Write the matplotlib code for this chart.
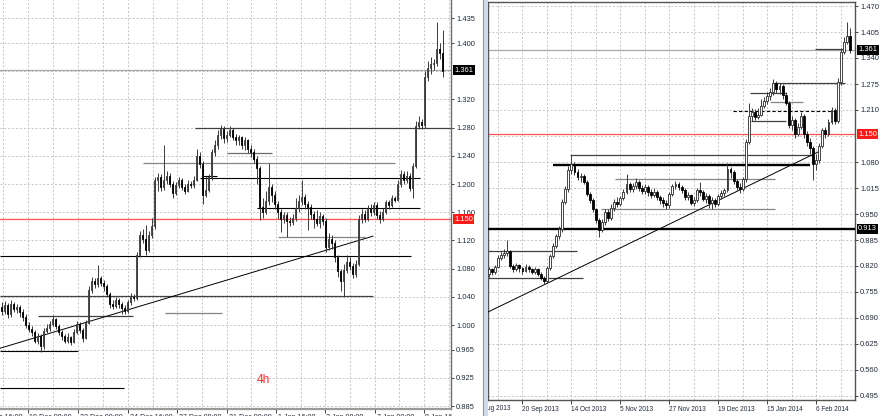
import matplotlib
matplotlib.use('Agg')
import matplotlib.pyplot as plt
from matplotlib.transforms import Bbox, TransformedBbox
from matplotlib.lines import Line2D
from matplotlib.patches import Rectangle
import numpy as np

# ---------------- DATA ----------------
# Left panel (4h) candles
left_first_open = 1.025
left_close = [
    1.020, 1.028, 1.015, 1.030, 1.022, 1.026, 1.018, 1.012, 1.000, 0.995,
    0.990, 0.978, 0.985, 0.970, 0.992, 0.996, 1.002, 1.008, 0.998, 0.990,
    0.984, 0.978, 0.983, 0.976, 0.990, 1.002, 0.993, 0.982, 1.003, 1.050,
    1.062, 1.058, 1.066, 1.060, 1.055, 1.044, 1.030, 1.027, 1.035, 1.030,
    1.024, 1.020, 1.032, 1.040, 1.038, 1.100, 1.128, 1.122, 1.106, 1.128,
    1.140, 1.205, 1.210, 1.196, 1.206, 1.212, 1.200, 1.187, 1.198, 1.205,
    1.196, 1.190, 1.200, 1.198, 1.206, 1.240, 1.228, 1.185, 1.192, 1.210,
    1.245, 1.256, 1.270, 1.278, 1.265, 1.270, 1.276, 1.267, 1.262, 1.266,
    1.255, 1.262, 1.250, 1.246, 1.236, 1.222, 1.168, 1.160, 1.176, 1.196,
    1.185, 1.172, 1.160, 1.150, 1.156, 1.148, 1.146, 1.152, 1.166, 1.176,
    1.182, 1.172, 1.168, 1.158, 1.150, 1.144, 1.155, 1.148, 1.110, 1.122,
    1.116, 1.096, 1.076, 1.062, 1.078, 1.090, 1.084, 1.072, 1.086, 1.150,
    1.158, 1.150, 1.165, 1.160, 1.170, 1.156, 1.150, 1.160, 1.174, 1.170,
    1.180, 1.178, 1.200, 1.214, 1.205, 1.212, 1.195, 1.225, 1.282, 1.288,
    1.283, 1.352, 1.364, 1.370, 1.372, 1.392, 1.386, 1.360]
left_high = [
    1.032, 1.034, 1.031, 1.036, 1.033, 1.030, 1.029, 1.022, 1.015, 1.004,
    0.999, 0.993, 0.989, 0.987, 0.996, 1.002, 1.006, 1.014, 1.010, 1.001,
    0.993, 0.987, 0.988, 0.985, 0.994, 1.006, 1.004, 0.996, 1.007, 1.055,
    1.068, 1.066, 1.085, 1.070, 1.064, 1.058, 1.047, 1.036, 1.040, 1.038,
    1.033, 1.028, 1.036, 1.046, 1.044, 1.104, 1.133, 1.136, 1.142, 1.133,
    1.152, 1.210, 1.216, 1.214, 1.255, 1.218, 1.215, 1.204, 1.203, 1.210,
    1.208, 1.200, 1.205, 1.204, 1.212, 1.250, 1.245, 1.232, 1.212, 1.214,
    1.250, 1.262, 1.276, 1.284, 1.282, 1.275, 1.282, 1.279, 1.271, 1.270,
    1.268, 1.266, 1.264, 1.256, 1.250, 1.240, 1.225, 1.180, 1.190, 1.230,
    1.200, 1.190, 1.176, 1.165, 1.160, 1.160, 1.153, 1.157, 1.180, 1.185,
    1.206, 1.186, 1.176, 1.172, 1.162, 1.163, 1.160, 1.158, 1.152, 1.130,
    1.127, 1.120, 1.100, 1.080, 1.086, 1.100, 1.096, 1.088, 1.092, 1.156,
    1.165, 1.163, 1.170, 1.172, 1.175, 1.174, 1.162, 1.166, 1.178, 1.177,
    1.184, 1.183, 1.205, 1.220, 1.218, 1.218, 1.216, 1.230, 1.290, 1.296,
    1.292, 1.360, 1.375, 1.380, 1.378, 1.430, 1.400, 1.418]
left_low = [
    1.014, 1.016, 1.010, 1.012, 1.018, 1.017, 1.012, 1.006, 0.996, 0.990,
    0.984, 0.974, 0.973, 0.962, 0.966, 0.988, 0.992, 0.999, 0.994, 0.986,
    0.979, 0.974, 0.975, 0.972, 0.974, 0.987, 0.988, 0.976, 0.980, 1.001,
    1.046, 1.052, 1.054, 1.055, 1.048, 1.040, 1.024, 1.022, 1.024, 1.024,
    1.015, 1.015, 1.017, 1.028, 1.034, 1.035, 1.096, 1.117, 1.100, 1.103,
    1.124, 1.136, 1.190, 1.190, 1.192, 1.200, 1.196, 1.180, 1.184, 1.194,
    1.192, 1.186, 1.188, 1.194, 1.195, 1.204, 1.222, 1.172, 1.182, 1.188,
    1.206, 1.240, 1.250, 1.264, 1.258, 1.260, 1.266, 1.262, 1.256, 1.255,
    1.250, 1.248, 1.244, 1.238, 1.230, 1.200, 1.149, 1.152, 1.157, 1.170,
    1.175, 1.165, 1.150, 1.132, 1.144, 1.125, 1.141, 1.142, 1.148, 1.160,
    1.170, 1.165, 1.135, 1.150, 1.138, 1.140, 1.138, 1.142, 1.104, 1.106,
    1.108, 1.090, 1.068, 1.048, 1.040, 1.074, 1.078, 1.066, 1.068, 1.083,
    1.144, 1.146, 1.147, 1.155, 1.156, 1.150, 1.144, 1.147, 1.157, 1.165,
    1.167, 1.174, 1.176, 1.196, 1.200, 1.202, 1.190, 1.180, 1.222, 1.278,
    1.278, 1.280, 1.346, 1.356, 1.362, 1.368, 1.378, 1.352]

# Right panel (daily) candles
right_first_open = 0.800
right_close = [
    0.812, 0.805, 0.818, 0.840, 0.848, 0.852, 0.858, 0.820, 0.812, 0.822,
    0.815, 0.808, 0.818, 0.812, 0.805, 0.812, 0.800, 0.790, 0.782, 0.815,
    0.845, 0.870, 0.895, 0.912, 0.980, 1.012, 1.060, 1.075, 1.055, 1.042,
    1.045, 1.030, 1.000, 0.985, 0.962, 0.935, 0.910, 0.930, 0.955, 0.940,
    0.965, 0.980, 0.975, 0.990, 1.005, 1.025, 1.012, 1.020, 1.030, 1.015,
    1.008, 1.018, 1.005, 0.998, 1.006, 0.992, 0.985, 0.978, 0.972, 1.000,
    1.020, 1.025, 1.018, 1.010, 0.992, 0.998, 0.978, 0.985, 1.010, 1.005,
    0.988, 0.995, 0.978, 0.985, 0.975, 0.995, 1.002, 1.010, 1.062, 1.055,
    1.032, 1.018, 1.012, 1.038, 1.130, 1.195, 1.205, 1.192, 1.198, 1.220,
    1.232, 1.245, 1.255, 1.278, 1.262, 1.270, 1.248, 1.228, 1.172, 1.185,
    1.150, 1.168, 1.195, 1.150, 1.130, 1.115, 1.075, 1.085, 1.120, 1.160,
    1.150, 1.180, 1.210, 1.182, 1.280, 1.355, 1.380, 1.396, 1.361]
right_high = [
    0.818, 0.815, 0.822, 0.848, 0.855, 0.862, 0.885, 0.860, 0.826, 0.828,
    0.825, 0.818, 0.824, 0.822, 0.816, 0.818, 0.815, 0.804, 0.794, 0.820,
    0.850, 0.878, 0.900, 0.920, 0.988, 1.020, 1.070, 1.097, 1.080, 1.062,
    1.052, 1.050, 1.036, 1.006, 0.990, 0.966, 0.940, 0.938, 0.962, 0.962,
    0.975, 0.988, 0.992, 0.996, 1.012, 1.050, 1.030, 1.028, 1.040, 1.034,
    1.022, 1.024, 1.022, 1.012, 1.014, 1.010, 0.998, 0.992, 0.984, 1.004,
    1.026, 1.032, 1.030, 1.022, 1.014, 1.005, 1.000, 0.992, 1.015, 1.030,
    1.010, 1.002, 1.000, 0.992, 0.990, 1.000, 1.010, 1.015, 1.078, 1.068,
    1.060, 1.038, 1.028, 1.042, 1.138, 1.227, 1.215, 1.212, 1.215, 1.238,
    1.242, 1.255, 1.265, 1.287, 1.282, 1.278, 1.275, 1.255, 1.232, 1.195,
    1.190, 1.178, 1.205, 1.200, 1.158, 1.140, 1.120, 1.100, 1.128, 1.166,
    1.168, 1.188, 1.218, 1.215, 1.290, 1.365, 1.392, 1.430, 1.415]
right_low = [
    0.792, 0.798, 0.800, 0.815, 0.835, 0.840, 0.845, 0.815, 0.806, 0.808,
    0.806, 0.800, 0.804, 0.806, 0.800, 0.801, 0.796, 0.784, 0.774, 0.778,
    0.810, 0.840, 0.865, 0.888, 0.905, 0.975, 1.005, 1.050, 1.048, 1.036,
    1.030, 1.024, 0.994, 0.978, 0.955, 0.928, 0.893, 0.904, 0.922, 0.932,
    0.935, 0.958, 0.968, 0.970, 0.985, 1.000, 1.005, 1.005, 1.012, 1.008,
    1.000, 1.000, 0.996, 0.990, 0.992, 0.986, 0.976, 0.968, 0.962, 0.966,
    0.995, 1.012, 1.010, 1.002, 0.986, 0.985, 0.972, 0.970, 0.980, 0.996,
    0.982, 0.978, 0.966, 0.963, 0.968, 0.970, 0.988, 0.995, 1.005, 1.040,
    1.025, 1.010, 1.002, 1.008, 1.030, 1.125, 1.182, 1.186, 1.188, 1.195,
    1.215, 1.225, 1.235, 1.248, 1.252, 1.250, 1.238, 1.222, 1.165, 1.160,
    1.140, 1.145, 1.162, 1.140, 1.120, 1.100, 1.035, 1.060, 1.078, 1.115,
    1.140, 1.145, 1.175, 1.175, 1.178, 1.272, 1.350, 1.374, 1.352]

# price levels
current_price = 1.361
red_level = 1.150
right_bold_level = 0.913

# horizontal segments drawn on the charts: level, start bar, end bar
left_seg_level = [1.2794, 1.244, 1.2298, 1.2085, 1.2115, 1.166, 1.1248, 1.098, 1.041, 1.0128, 1.017, 0.963, 0.9106]
left_seg_start = [64.5, 75.2, 47.2, 66.2, 67.2, 85.2, 92.2, -0.5, -0.5, 12.2, 54.5, -0.5, -0.5]
left_seg_end = [150.0, 90.2, 131.2, 139.5, 71.8, 139.5, 121.2, 136.5, 123.8, 43.8, 73.5, 25.5, 40.8]
left_seg_kind = ['dark', 'mid', 'gray', 'black', 'black', 'black', 'gray', 'black', 'dark', 'dark', 'gray', 'black', 'black']

right_seg_level = [1.3625, 1.2775, 1.2525, 1.230, 1.2075, 1.1825, 1.0975, 1.0725, 1.0375, 0.9625, 0.8575, 0.790]
right_seg_start = [106.6, 92.9, 85.4, 91.9, 79.8, 85.7, 26.5, 21.0, 41.2, 36.7, -0.3, -0.3]
right_seg_end = [115.8, 116.4, 97.2, 102.7, 113.1, 97.2, 106.0, 105.0, 93.5, 93.5, 28.8, 30.8]
right_seg_kind = ['dark', 'dark', 'dark', 'gray', 'dash', 'dark', 'dark', 'thick', 'gray', 'gray', 'dark', 'dark']

# trend lines (bar, price) endpoints
left_trend_x = [-0.5, 123.8]
left_trend_y = [0.967, 1.126]
right_trend_x = [-0.26, 107.6]
right_trend_y = [0.705, 1.105]

# axis ticks
left_yticks = [1.435, 1.400, 1.320, 1.280, 1.240, 1.200, 1.160, 1.120, 1.080, 1.040, 1.000, 0.965, 0.925, 0.885]
right_yticks = [1.470, 1.405, 1.340, 1.275, 1.210, 1.080, 1.015, 0.950, 0.885, 0.820, 0.755, 0.690, 0.625, 0.560, 0.495]
right_date_pos = [-5, 11, 27, 43, 59, 75, 91, 107]
right_date_labels = ['28 Aug 2013', '20 Sep 2013', '14 Oct 2013', '5 Nov 2013', '27 Nov 2013',
                     '19 Dec 2013', '15 Jan 2014', '6 Feb 2014']
left_date_pos = [-7.5, 8.83, 25.5, 42.17, 58.5, 75.17, 91.5, 107.83, 124.5, 140.83]
left_date_labels = ['17 Dec 16:00', '19 Dec 08:00', '23 Dec 00:00', '24 Dec 16:00', '27 Dec 08:00',
                    '31 Dec 00:00', '1 Jan 16:00', '3 Jan 08:00', '7 Jan 00:00', '8 Jan 16:00']
left_vgrid = [0.5, 8.83, 17.17, 25.5, 33.83, 42.17, 50.5, 58.5, 66.83, 75.17, 83.17, 91.5,
              99.83, 107.83, 116.17, 124.5, 132.5, 140.83, 149.17]
right_vgrid = [3, 11, 19, 27, 35, 43, 51, 59, 67, 75, 83, 91, 99, 107, 115]

# ---------------- FIGURE ----------------
plt.rcParams['font.family'] = ['Liberation Sans', 'DejaVu Sans']
W, H = 880, 416
fig = plt.figure(figsize=(W / 100, H / 100), dpi=100)
fig.patch.set_facecolor('white')

YFS = 5.4     # price label font size
XFS = 4.7     # date label font size
TXT = '#1e2a3a'


def fx(px):
    return px / W


def fy(py):
    return 1 - py / H


axL = fig.add_axes([0, fy(409), fx(451), 409 / H])
axR = fig.add_axes([fx(488), fy(400), fx(855 - 488), (400 - 2) / H])

GRID = '#c4c4c4'
KIND = {'black': dict(color='#000000', lw=0.8, ls='-'),
        'dark': dict(color='#404040', lw=0.9, ls='-'),
        'mid': dict(color='#6a6a6a', lw=0.9, ls='-'),
        'gray': dict(color='#858585', lw=0.9, ls='-'),
        'dash': dict(color='#000000', lw=0.8, ls=(0, (3, 2))),
        'thick': dict(color='#000000', lw=1.7, ls='-')}


def candles(ax, o, h, l, c, width):
    o, h, l, c = map(np.asarray, (o, h, l, c))
    x = np.arange(len(c))
    top = np.maximum(h, np.maximum(o, c))
    bot = np.minimum(l, np.minimum(o, c))
    ax.vlines(x, bot, top, color='#3a3a3a', lw=0.7, zorder=4)
    bull = c >= o
    body = np.abs(c - o)
    body = np.where(body < 0.0015, 0.0015, body)
    ax.bar(x[bull], body[bull], bottom=np.minimum(o, c)[bull], width=width,
           facecolor='white', edgecolor='#2a2a2a', lw=0.6, zorder=5)
    ax.bar(x[~bull], body[~bull], bottom=np.minimum(o, c)[~bull], width=width,
           facecolor='black', edgecolor='black', lw=0.6, zorder=5)


def style_axis(ax, yticks, hidden_grid):
    for v in list(yticks) + hidden_grid:
        ax.axhline(v, color=GRID, lw=0.7, ls=(0, (2, 2)), zorder=0)
    ax.yaxis.tick_right()
    ax.set_yticks(yticks)
    ax.set_yticklabels(['%.3f' % v for v in yticks])
    ax.tick_params(axis='y', direction='out', length=2.5, width=0.7, color='#444444',
                   labelsize=YFS, labelcolor=TXT, pad=1.2)
    ax.tick_params(axis='x', direction='out', length=3, width=0.7, color='#444444',
                   labelsize=XFS, labelcolor=TXT, pad=1.2)


# ---------- left panel ----------
lo = [left_first_open] + left_close[:-1]
axL.set_xlim(-0.5, 149.83)
axL.set_ylim((1030 - 409) / 705, 1030 / 705)
style_axis(axL, left_yticks, [1.360])
for g in left_vgrid:
    axL.axvline(g, color=GRID, lw=0.7, ls=(0, (2, 2)), zorder=0)
axL.axhline(current_price, color='#a8a8a8', lw=0.9, zorder=2)
axL.axhline(red_level, color='#ff5050', lw=0.9, zorder=2)
for v, s, e, k in zip(left_seg_level, left_seg_start, left_seg_end, left_seg_kind):
    axL.plot([s, e], [v, v], zorder=3, solid_capstyle='butt', **KIND[k])
axL.plot(left_trend_x, left_trend_y, color='black', lw=0.7, zorder=3)
candles(axL, lo, left_high, left_low, left_close, 0.62)
axL.set_xticks(left_date_pos[1:])
axL.set_xticklabels([''] * (len(left_date_pos) - 1))
for sp in ['left', 'top']:
    axL.spines[sp].set_visible(False)
axL.spines['right'].set_color('#6a6a6a')
axL.spines['right'].set_linewidth(1.0)
axL.spines['bottom'].set_color('#9a9a9a')
axL.spines['bottom'].set_linewidth(1.6)

# the 4h date labels sit at the very bottom edge, mostly cut off as in the original
clipL = TransformedBbox(Bbox.from_extents(0, 0, fx(452), 1), fig.transFigure)
for p, s in zip(left_date_pos, left_date_labels):
    xp = (p + 0.5) * 3 + 1.5
    t = fig.text(fx(xp), fy(413.8), s, fontsize=XFS + 0.4, color=TXT, ha='left', va='top')
    t.set_clip_box(clipL)

fig.text(fx(263), fy(380), '4h', color='#ff2a2a', fontsize=8.5, ha='center', va='center')

# ---------- right panel ----------
ro = [right_first_open] + right_close[:-1]
axR.set_xlim(-0.26, 119.67)
axR.set_ylim((594 - 400) / 400, (594 - 2) / 400)
style_axis(axR, right_yticks, [1.145])
for g in right_vgrid:
    axR.axvline(g, color=GRID, lw=0.7, ls=(0, (2, 2)), zorder=0)
axR.axhline(current_price, color='#a8a8a8', lw=0.9, zorder=2)
axR.axhline(red_level, color='#ff5050', lw=0.9, zorder=2)
axR.axhline(right_bold_level, color='black', lw=1.7, zorder=3)
for v, s, e, k in zip(right_seg_level, right_seg_start, right_seg_end, right_seg_kind):
    axR.plot([s, e], [v, v], zorder=3, solid_capstyle='butt', **KIND[k])
axR.plot(right_trend_x, right_trend_y, color='black', lw=0.7, zorder=3)
candles(axR, ro, right_high, right_low, right_close, 0.62)
axR.set_xticks(right_date_pos[1:])
axR.set_xticklabels(right_date_labels[1:], ha='left')
for sp in axR.spines.values():
    sp.set_color('#555555')
    sp.set_linewidth(1.0)

clipR = TransformedBbox(Bbox.from_extents(fx(488), 0, 1, 1), fig.transFigure)
x0 = 488.8 + 3.06 * right_date_pos[0]
t = fig.text(fx(x0 + 0.5), fy(404.5), right_date_labels[0], fontsize=XFS, color=TXT,
             ha='left', va='top')
t.set_clip_box(clipR)

# price boxes


def price_box(ax, v, fc):
    ax.annotate('%.3f' % v, xy=(1, v), xycoords=('axes fraction', 'data'),
                xytext=(3, 0), textcoords='offset pixels', ha='left', va='center',
                color='white', fontsize=YFS, annotation_clip=False, zorder=10,
                bbox=dict(boxstyle='square,pad=0.2', fc=fc, ec='none'))


price_box(axL, current_price, 'black')
price_box(axL, red_level, '#ff1a1a')
price_box(axR, current_price, 'black')
price_box(axR, red_level, '#ff1a1a')
price_box(axR, right_bold_level, 'black')

# separator between panels
fig.add_artist(Rectangle((fx(483), 0), fx(5), 1, transform=fig.transFigure,
                         fc='#cddbec', ec='none'))
fig.add_artist(Line2D([fx(482.5), fx(482.5)], [0, 1], transform=fig.transFigure,
                      color='#9a9a9a', lw=0.8))

fig.savefig('out.png', dpi=100, facecolor='white')
